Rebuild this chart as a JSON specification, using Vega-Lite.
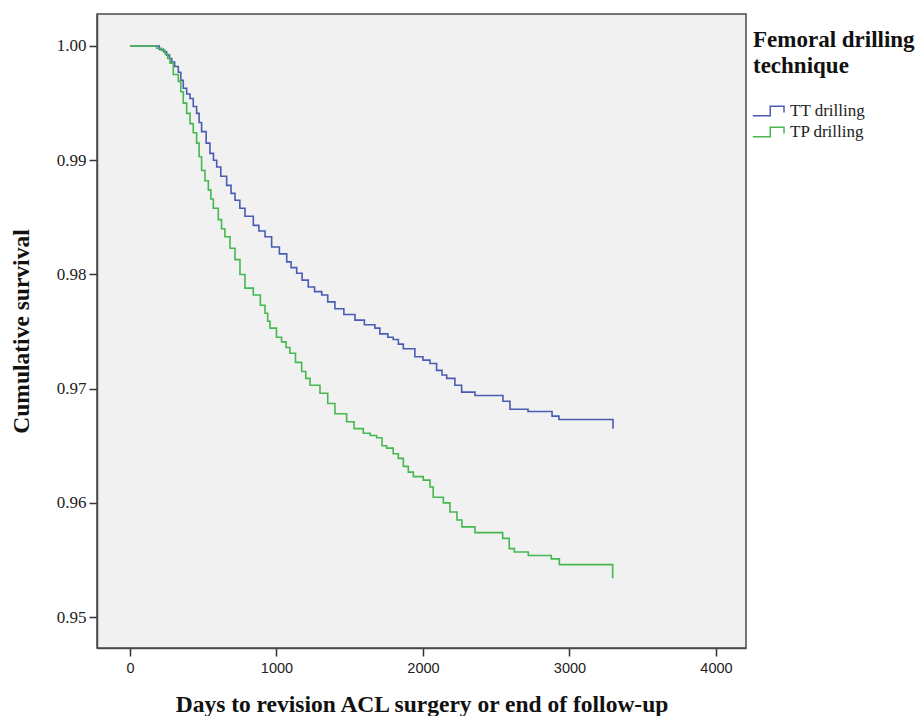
{
  "$schema": "https://vega.github.io/schema/vega-lite/v6.json",
  "width": 649,
  "height": 634,
  "autosize": {"type": "none"},
  "padding": {"left": 97, "top": 14, "right": 175, "bottom": 68},
  "background": "white",
  "config": {
    "view": {"fill": "#f0f1f0", "stroke": "#4a4a4a", "strokeWidth": 1.5},
    "axis": {"grid": false, "domainColor": "#4a4a4a", "domainWidth": 1.5, "tickColor": "#333", "tickWidth": 1.5, "tickSize": 8, "labelColor": "#222", "titleColor": "#111", "titleFont": "Liberation Serif", "titleFontWeight": "bold", "titleFontSize": 23.5}
  },
  "data": {"values": [
    {"g":"TT drilling","d":0,"s":1.0},
    {"g":"TT drilling","d":150,"s":1.0},
    {"g":"TT drilling","d":200,"s":0.9997},
    {"g":"TT drilling","d":230,"s":0.9995},
    {"g":"TT drilling","d":250,"s":0.9992},
    {"g":"TT drilling","d":270,"s":0.9989},
    {"g":"TT drilling","d":285,"s":0.9986},
    {"g":"TT drilling","d":305,"s":0.9982},
    {"g":"TT drilling","d":330,"s":0.9977},
    {"g":"TT drilling","d":347,"s":0.9970},
    {"g":"TT drilling","d":364,"s":0.9963},
    {"g":"TT drilling","d":387,"s":0.9958},
    {"g":"TT drilling","d":410,"s":0.9954},
    {"g":"TT drilling","d":432,"s":0.9947},
    {"g":"TT drilling","d":455,"s":0.9941},
    {"g":"TT drilling","d":472,"s":0.9933},
    {"g":"TT drilling","d":489,"s":0.9925},
    {"g":"TT drilling","d":520,"s":0.9915},
    {"g":"TT drilling","d":546,"s":0.9906},
    {"g":"TT drilling","d":570,"s":0.9900},
    {"g":"TT drilling","d":592,"s":0.9894},
    {"g":"TT drilling","d":620,"s":0.9886},
    {"g":"TT drilling","d":660,"s":0.9878},
    {"g":"TT drilling","d":690,"s":0.9871},
    {"g":"TT drilling","d":717,"s":0.9865},
    {"g":"TT drilling","d":750,"s":0.9858},
    {"g":"TT drilling","d":785,"s":0.9851},
    {"g":"TT drilling","d":842,"s":0.9843},
    {"g":"TT drilling","d":880,"s":0.9838},
    {"g":"TT drilling","d":922,"s":0.9833},
    {"g":"TT drilling","d":967,"s":0.9824},
    {"g":"TT drilling","d":1020,"s":0.9818},
    {"g":"TT drilling","d":1070,"s":0.9811},
    {"g":"TT drilling","d":1100,"s":0.9806},
    {"g":"TT drilling","d":1138,"s":0.9801},
    {"g":"TT drilling","d":1175,"s":0.9795},
    {"g":"TT drilling","d":1217,"s":0.9789},
    {"g":"TT drilling","d":1260,"s":0.9785},
    {"g":"TT drilling","d":1309,"s":0.9782},
    {"g":"TT drilling","d":1350,"s":0.9776},
    {"g":"TT drilling","d":1399,"s":0.9770},
    {"g":"TT drilling","d":1460,"s":0.9765},
    {"g":"TT drilling","d":1536,"s":0.9760},
    {"g":"TT drilling","d":1600,"s":0.9756},
    {"g":"TT drilling","d":1672,"s":0.9753},
    {"g":"TT drilling","d":1706,"s":0.9748},
    {"g":"TT drilling","d":1760,"s":0.9745},
    {"g":"TT drilling","d":1797,"s":0.9743},
    {"g":"TT drilling","d":1832,"s":0.9739},
    {"g":"TT drilling","d":1866,"s":0.9735},
    {"g":"TT drilling","d":1945,"s":0.9728},
    {"g":"TT drilling","d":2000,"s":0.9725},
    {"g":"TT drilling","d":2048,"s":0.9722},
    {"g":"TT drilling","d":2093,"s":0.9716},
    {"g":"TT drilling","d":2130,"s":0.9712},
    {"g":"TT drilling","d":2162,"s":0.9709},
    {"g":"TT drilling","d":2218,"s":0.9703},
    {"g":"TT drilling","d":2264,"s":0.9697},
    {"g":"TT drilling","d":2355,"s":0.9694},
    {"g":"TT drilling","d":2546,"s":0.9689},
    {"g":"TT drilling","d":2594,"s":0.9682},
    {"g":"TT drilling","d":2717,"s":0.9680},
    {"g":"TT drilling","d":2881,"s":0.9676},
    {"g":"TT drilling","d":2928,"s":0.9673},
    {"g":"TT drilling","d":3297,"s":0.9665},
    {"g":"TP drilling","d":0,"s":1.0},
    {"g":"TP drilling","d":150,"s":1.0},
    {"g":"TP drilling","d":182,"s":0.9998},
    {"g":"TP drilling","d":215,"s":0.9996},
    {"g":"TP drilling","d":240,"s":0.9993},
    {"g":"TP drilling","d":258,"s":0.9989},
    {"g":"TP drilling","d":273,"s":0.9985},
    {"g":"TP drilling","d":296,"s":0.9975},
    {"g":"TP drilling","d":330,"s":0.9969},
    {"g":"TP drilling","d":347,"s":0.9960},
    {"g":"TP drilling","d":364,"s":0.9950},
    {"g":"TP drilling","d":387,"s":0.9941},
    {"g":"TP drilling","d":410,"s":0.9932},
    {"g":"TP drilling","d":432,"s":0.9924},
    {"g":"TP drilling","d":455,"s":0.9915},
    {"g":"TP drilling","d":472,"s":0.9903},
    {"g":"TP drilling","d":489,"s":0.9891},
    {"g":"TP drilling","d":512,"s":0.9882},
    {"g":"TP drilling","d":535,"s":0.9874},
    {"g":"TP drilling","d":552,"s":0.9866},
    {"g":"TP drilling","d":569,"s":0.9858},
    {"g":"TP drilling","d":603,"s":0.9848},
    {"g":"TP drilling","d":625,"s":0.9840},
    {"g":"TP drilling","d":648,"s":0.9833},
    {"g":"TP drilling","d":683,"s":0.9823},
    {"g":"TP drilling","d":717,"s":0.9813},
    {"g":"TP drilling","d":751,"s":0.9800},
    {"g":"TP drilling","d":785,"s":0.9788},
    {"g":"TP drilling","d":842,"s":0.9782},
    {"g":"TP drilling","d":890,"s":0.9773},
    {"g":"TP drilling","d":922,"s":0.9766},
    {"g":"TP drilling","d":940,"s":0.9759},
    {"g":"TP drilling","d":956,"s":0.9753},
    {"g":"TP drilling","d":1000,"s":0.9745},
    {"g":"TP drilling","d":1035,"s":0.9741},
    {"g":"TP drilling","d":1065,"s":0.9736},
    {"g":"TP drilling","d":1092,"s":0.9731},
    {"g":"TP drilling","d":1130,"s":0.9723},
    {"g":"TP drilling","d":1172,"s":0.9715},
    {"g":"TP drilling","d":1200,"s":0.9709},
    {"g":"TP drilling","d":1229,"s":0.9703},
    {"g":"TP drilling","d":1297,"s":0.9696},
    {"g":"TP drilling","d":1350,"s":0.9687},
    {"g":"TP drilling","d":1399,"s":0.9678},
    {"g":"TP drilling","d":1479,"s":0.9671},
    {"g":"TP drilling","d":1530,"s":0.9665},
    {"g":"TP drilling","d":1593,"s":0.9661},
    {"g":"TP drilling","d":1640,"s":0.9659},
    {"g":"TP drilling","d":1684,"s":0.9657},
    {"g":"TP drilling","d":1720,"s":0.9650},
    {"g":"TP drilling","d":1752,"s":0.9648},
    {"g":"TP drilling","d":1797,"s":0.9643},
    {"g":"TP drilling","d":1832,"s":0.9639},
    {"g":"TP drilling","d":1866,"s":0.9632},
    {"g":"TP drilling","d":1900,"s":0.9627},
    {"g":"TP drilling","d":1934,"s":0.9623},
    {"g":"TP drilling","d":2002,"s":0.9620},
    {"g":"TP drilling","d":2048,"s":0.9614},
    {"g":"TP drilling","d":2070,"s":0.9605},
    {"g":"TP drilling","d":2139,"s":0.9600},
    {"g":"TP drilling","d":2184,"s":0.9592},
    {"g":"TP drilling","d":2232,"s":0.9585},
    {"g":"TP drilling","d":2266,"s":0.9579},
    {"g":"TP drilling","d":2355,"s":0.9574},
    {"g":"TP drilling","d":2544,"s":0.9569},
    {"g":"TP drilling","d":2589,"s":0.9560},
    {"g":"TP drilling","d":2624,"s":0.9557},
    {"g":"TP drilling","d":2719,"s":0.9554},
    {"g":"TP drilling","d":2876,"s":0.9551},
    {"g":"TP drilling","d":2931,"s":0.9546},
    {"g":"TP drilling","d":3295,"s":0.9534}
  ]},
  "mark": {"type": "line", "interpolate": "step-after", "strokeWidth": 1.6},
  "encoding": {
    "x": {
      "field": "d", "type": "quantitative",
      "scale": {"domain": [-225, 4205], "nice": false, "zero": false},
      "axis": {"values": [0, 1000, 2000, 3000, 4000], "title": "Days to revision ACL surgery or end of follow-up", "labelFont": "Liberation Sans", "labelFontSize": 14.5, "labelPadding": 5, "titlePadding": 18, "format": "d"}
    },
    "y": {
      "field": "s", "type": "quantitative",
      "scale": {"domain": [0.9473, 1.0028], "nice": false, "zero": false},
      "axis": {"values": [0.95, 0.96, 0.97, 0.98, 0.99, 1.0], "format": ".2f", "title": "Cumulative survival", "labelFont": "Liberation Serif", "labelFontSize": 17, "labelPadding": 3, "titlePadding": 23}
    },
    "color": {
      "field": "g", "type": "nominal",
      "scale": {"domain": ["TT drilling", "TP drilling"], "range": ["#4a5cb2", "#45b84f"]},
      "legend": {
        "title": ["Femoral drilling", "technique"],
        "orient": "none", "legendX": 656, "legendY": 15,
        "titleFont": "Liberation Serif", "titleFontSize": 23, "titleFontWeight": "bold", "titleColor": "#111", "titleLineHeight": 26, "titlePadding": 24,
        "labelFont": "Liberation Serif", "labelFontSize": 17, "labelColor": "#222", "labelOffset": 19,
        "symbolType": "M-1.15,0.6H1.03V-0.6H2.75V0.2", "symbolSize": 256, "symbolStrokeWidth": 1.5, "rowPadding": 4
      }
    }
  }
}
